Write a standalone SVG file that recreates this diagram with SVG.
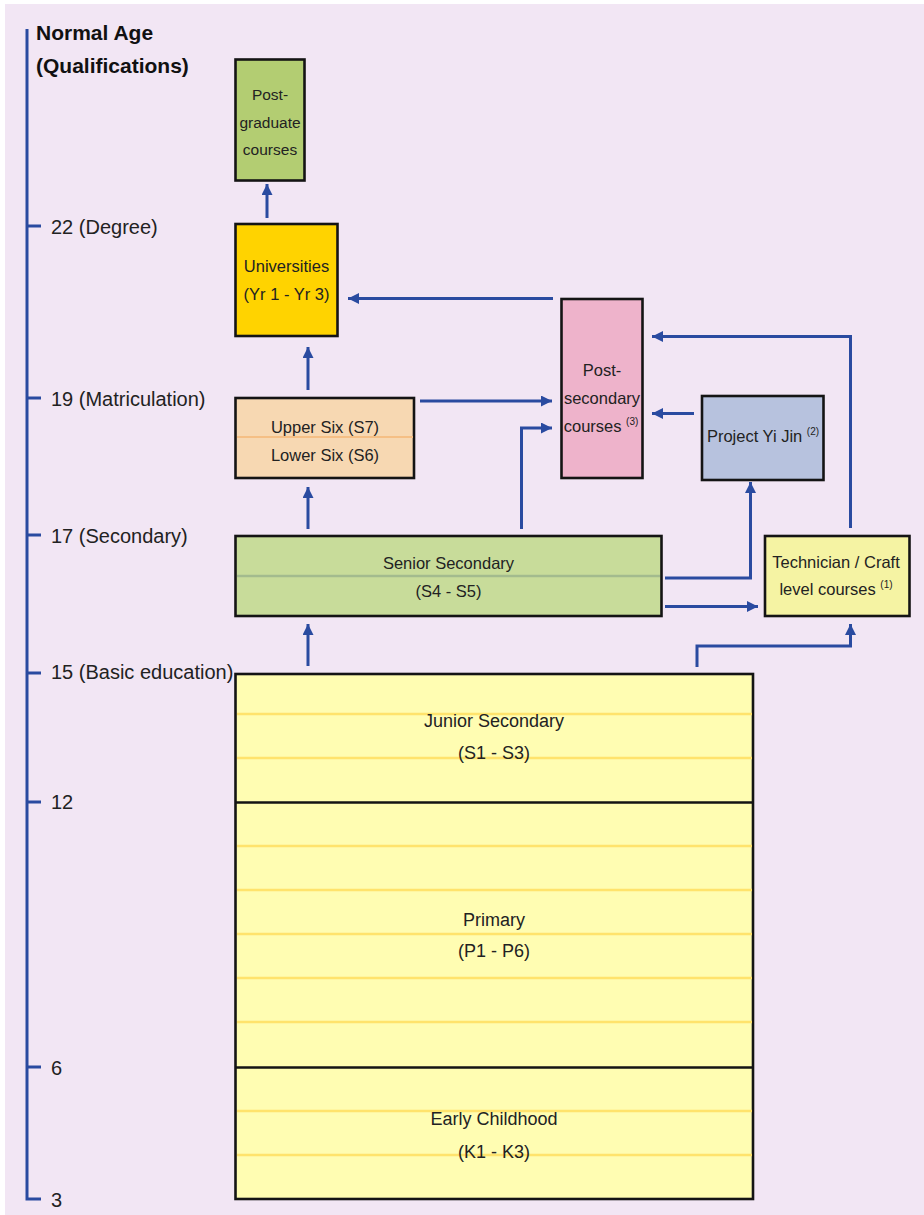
<svg xmlns="http://www.w3.org/2000/svg" width="924" height="1215" viewBox="0 0 924 1215">
<defs>
<style>
.box{stroke:#141414;stroke-width:2.6}
.t{font-family:"Liberation Sans",Arial,sans-serif;font-size:16.5px;fill:#222;text-anchor:middle}
.ts{font-size:15.5px}
.tb{font-family:"Liberation Sans",Arial,sans-serif;font-size:18px;fill:#222;text-anchor:middle}
.ax{font-family:"Liberation Sans",Arial,sans-serif;font-size:20px;fill:#222}
.hd{font-family:"Liberation Sans",Arial,sans-serif;font-size:21px;font-weight:bold;fill:#111}
.sup{font-size:10px}
.yl{stroke:#FFE36C;stroke-width:2.5}
.axis{stroke:#2A4BA0;stroke-width:3;fill:none}
.conn{stroke:#2A4BA0;stroke-width:3;fill:none;marker-end:url(#ah)}
</style>
<marker id="ah" markerUnits="userSpaceOnUse" markerWidth="12" markerHeight="12" refX="11" refY="5.5" orient="auto">
<path d="M0,0 L11,5.5 L0,11 Z" fill="#2A4BA0"/>
</marker>
</defs>
<rect x="0" y="0" width="924" height="1215" fill="#ffffff"/>
<rect x="5" y="4" width="919" height="1211" fill="#F2E6F4"/>

<g id="axis">
<path class="axis" d="M27,29 V1199 H41 M27,226 H41 M27,398 H41 M27,535 H41 M27,673 H41 M27,802 H41 M27,1067 H41"/>
<text class="hd" x="36" y="40">Normal Age</text>
<text class="hd" x="36" y="73">(Qualifications)</text>
<text class="ax" x="51" y="234">22 (Degree)</text>
<text class="ax" x="51" y="406">19 (Matriculation)</text>
<text class="ax" x="51" y="543">17 (Secondary)</text>
<text class="ax" x="51" y="679">15 (Basic education)</text>
<text class="ax" x="51" y="809">12</text>
<text class="ax" x="51" y="1075">6</text>
<text class="ax" x="51" y="1207">3</text>
</g>

<g id="basic">
<rect class="box" x="235.5" y="674" width="517.5" height="525" fill="#FFFDB2"/>
<path class="yl" d="M237,714 H752 M237,758 H752 M237,846 H752 M237,890 H752 M237,934 H752 M237,978 H752 M237,1022 H752 M237,1111 H752 M237,1155 H752"/>
<path d="M235.5,802.5 H753 M235.5,1067.5 H753" stroke="#141414" stroke-width="2.6"/>
</g>
<g id="junior">
<text class="tb" x="494" y="727">Junior Secondary</text>
<text class="tb" x="494" y="759">(S1 - S3)</text>
</g>
<g id="primary">
<text class="tb" x="494" y="926">Primary</text>
<text class="tb" x="494" y="957">(P1 - P6)</text>
</g>
<g id="early">
<text class="tb" x="494" y="1125">Early Childhood</text>
<text class="tb" x="494" y="1158">(K1 - K3)</text>
</g>

<g id="postgrad">
<rect class="box" x="235.5" y="59.5" width="69" height="121" fill="#B3CD72"/>
<text class="t ts" x="270" y="100">Post-</text>
<text class="t ts" x="270" y="127.5">graduate</text>
<text class="t ts" x="270" y="155">courses</text>
</g>
<g id="universities">
<rect class="box" x="235.5" y="224" width="102" height="112" fill="#FFD300"/>
<text class="t" x="286.5" y="272">Universities</text>
<text class="t" x="286.5" y="300">(Yr 1 - Yr 3)</text>
</g>
<g id="sixth">
<rect class="box" x="235.5" y="398" width="178.5" height="80" fill="#F7D8B2"/>
<line x1="237" y1="437" x2="413" y2="437" stroke="#F5BF85" stroke-width="2"/>
<text class="t" x="325" y="433">Upper Six (S7)</text>
<text class="t" x="325" y="461">Lower Six (S6)</text>
</g>
<g id="postsecondary">
<rect class="box" x="561.5" y="299" width="81" height="179" fill="#EEB3CB"/>
<text class="t" x="602" y="376">Post-</text>
<text class="t" x="602" y="403.5">secondary</text>
<text class="t" x="601" y="431.5">courses <tspan class="sup" dy="-7">(3)</tspan></text>
</g>
<g id="yijin">
<rect class="box" x="702" y="396" width="121.5" height="84" fill="#B7C2DE"/>
<text class="t" x="763" y="442">Project Yi Jin <tspan class="sup" dy="-7">(2)</tspan></text>
</g>
<g id="senior">
<rect class="box" x="235.5" y="536" width="426" height="80" fill="#C8DC9A"/>
<line x1="237" y1="576" x2="660" y2="576" stroke="#A3BB8E" stroke-width="2.5"/>
<text class="t" x="448.5" y="569">Senior Secondary</text>
<text class="t" x="448.5" y="597">(S4 - S5)</text>
</g>
<g id="technician">
<rect class="box" x="765" y="536" width="144.5" height="80" fill="#F5F3A3"/>
<text class="t" x="836" y="567.5">Technician / Craft</text>
<text class="t" x="836" y="595">level courses <tspan class="sup" dy="-7">(1)</tspan></text>
</g>

<g id="connectors">
<path class="conn" d="M267,218 V184"/>
<path class="conn" d="M308,390 V347"/>
<path class="conn" d="M308,529 V487"/>
<path class="conn" d="M308,666 V624"/>
<path class="conn" d="M553,298.5 H348"/>
<path class="conn" d="M420,401 H552"/>
<path class="conn" d="M521.5,529 V428 H552"/>
<path class="conn" d="M694,413.5 H652"/>
<path class="conn" d="M850.5,528 V336.5 H652"/>
<path class="conn" d="M665,578 H750.5 V482"/>
<path class="conn" d="M665,606.5 H758"/>
<path class="conn" d="M697,667 V646 H850.5 V624"/>
</g>
</svg>
